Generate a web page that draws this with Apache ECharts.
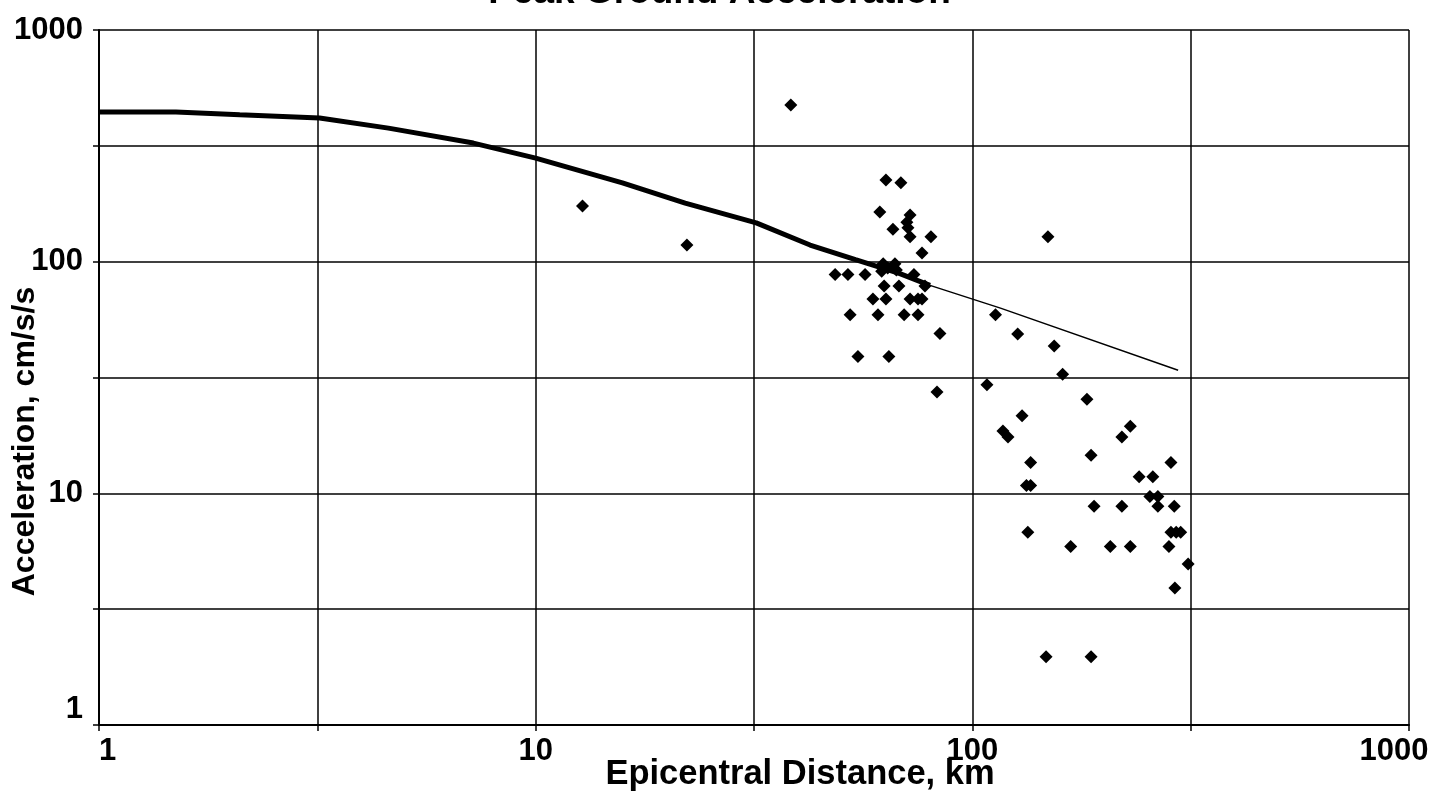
<!DOCTYPE html>
<html>
<head>
<meta charset="utf-8">
<title>Peak Ground Acceleration</title>
<script src="https://cdn.jsdelivr.net/npm/echarts@6/dist/echarts.min.js"></script>
<style>
  html, body { margin: 0; padding: 0; background: #fff; }
  #chart { width: 1439px; height: 800px; }
</style>
</head>
<body>
<div id="chart"></div>
<script>
  // attenuation curve, thick part then thin part
  var curveDist = [1, 1.5, 2.1, 3.2, 4.6, 7.2, 10, 15.8, 22, 32, 42.5, 54, 68, 80];
  var curvePga = [443, 443, 431, 417, 377, 325, 280, 219, 179, 147, 118, 102, 89, 79];
  var tailDist = [80, 116, 296];
  var tailPga = [79, 63, 34];

  // recorded stations
  var stationDist = [38.4, 12.8, 22.2, 63.4, 68.6, 61.4, 72, 70.8, 71.2, 65.8, 72, 80.4, 76.7,
    62.5, 66.5, 64, 67, 62, 48.5, 51.9, 56.8, 73.5, 62.8, 67.9, 77.9, 59.2, 63.4, 72, 75.1, 76.7,
    52.5, 60.8, 69.8, 75.1, 84.3, 54.7, 64.4, 113, 83, 149, 127, 154, 161, 108, 183, 130, 117.5,
    120.7, 230, 220, 136, 187, 285, 241, 259, 133, 136, 255, 266, 190, 220, 266, 290, 134, 285,
    293, 300, 168, 207, 230, 282, 312, 291, 147.5, 187];
  var stationPga = [474, 174, 118, 225, 219, 164, 159, 148, 140, 138, 128, 128, 109,
    98, 98, 94, 92, 91, 88, 88, 88, 88, 78.5, 78.5, 78.5, 69, 69, 69, 69, 69,
    59, 59, 59, 59, 49, 39, 39, 59, 27.4, 128, 48.7, 43.3, 32.7, 29.4, 25.5, 21.6, 18.6,
    17.5, 19.5, 17.5, 13.6, 14.6, 13.6, 11.8, 11.8, 10.8, 10.8, 9.7, 9.7, 8.8, 8.8, 8.8, 8.8, 6.8, 6.8,
    6.8, 6.8, 5.9, 5.9, 5.9, 5.9, 4.95, 3.9, 1.97, 1.97];

  function pairs(xs, ys) {
    return xs.map(function (x, i) { return [x, ys[i]]; });
  }

  // only label the full decades, the half-decade ticks stay blank
  function decadeLabel(v) {
    var lg = Math.log10(v);
    if (Math.abs(lg - Math.round(lg)) < 1e-6) {
      return String(Math.round(v));
    }
    return '';
  }

  // x axis: last label sits a little left of the end of the axis
  function xLabel(v) {
    var s = decadeLabel(v);
    if (s === '1000') {
      return '{last|' + s + '}';
    }
    return s;
  }

  var font = "'Liberation Sans', Arial, sans-serif";
  var black = '#000';

  var axisCommon = {
    type: 'log',
    logBase: Math.sqrt(10),
    min: 1,
    max: 1000,
    interval: 1,
    nameMoveOverlap: false,
    axisLine: { show: true, lineStyle: { color: black, width: 2 } },
    axisTick: { show: true, inside: false, length: 6, lineStyle: { color: black, width: 1.5 } },
    splitLine: { show: true, lineStyle: { color: black, width: 1.5 } },
    nameTextStyle: { color: black, fontFamily: font, fontWeight: 'bold', fontSize: 34.5 }
  };

  var myChart = echarts.init(document.getElementById('chart'));
  myChart.setOption({
    animation: false,
    backgroundColor: '#fff',
    title: {
      text: 'Peak Ground Acceleration',
      left: 'center',
      top: -31,
      textStyle: { color: black, fontFamily: font, fontWeight: 'bold', fontSize: 37 }
    },
    grid: {
      left: 99,
      right: 30,
      top: 30,
      bottom: 75,
      containLabel: false,
      outerBoundsMode: 'none'
    },
    xAxis: Object.assign({}, axisCommon, {
      name: 'Epicentral Distance, km',
      nameLocation: 'middle',
      nameGap: 32,
      nameTextStyle: Object.assign({}, axisCommon.nameTextStyle, { padding: [0, 0, 0, 92] }),
      axisLabel: {
        color: black, fontFamily: font, fontWeight: 'bold', fontSize: 31,
        margin: 11,
        alignMinLabel: 'left',
        formatter: xLabel,
        rich: {
          last: {
            color: black, fontFamily: font, fontWeight: 'bold', fontSize: 31,
            padding: [0, 30, 0, 0]
          }
        }
      }
    }),
    yAxis: Object.assign({}, axisCommon, {
      name: 'Acceleration, cm/s/s',
      nameLocation: 'middle',
      nameGap: 58,
      nameTextStyle: Object.assign({}, axisCommon.nameTextStyle, { fontSize: 32, padding: [0, 128, 0, 0] }),
      axisLabel: {
        color: black, fontFamily: font, fontWeight: 'bold', fontSize: 31,
        margin: 16,
        verticalAlignMinLabel: 'bottom',
        formatter: decadeLabel
      }
    }),
    series: [
      {
        name: 'stations',
        type: 'scatter',
        symbol: 'diamond',
        symbolSize: 13,
        itemStyle: { color: black, opacity: 1 },
        data: pairs(stationDist, stationPga)
      },
      {
        name: 'curve',
        type: 'line',
        showSymbol: false,
        symbol: 'none',
        lineStyle: { color: black, width: 5 },
        data: pairs(curveDist, curvePga)
      },
      {
        name: 'curve tail',
        type: 'line',
        showSymbol: false,
        symbol: 'none',
        lineStyle: { color: black, width: 1.5 },
        data: pairs(tailDist, tailPga)
      }
    ]
  });
</script>
</body>
</html>
